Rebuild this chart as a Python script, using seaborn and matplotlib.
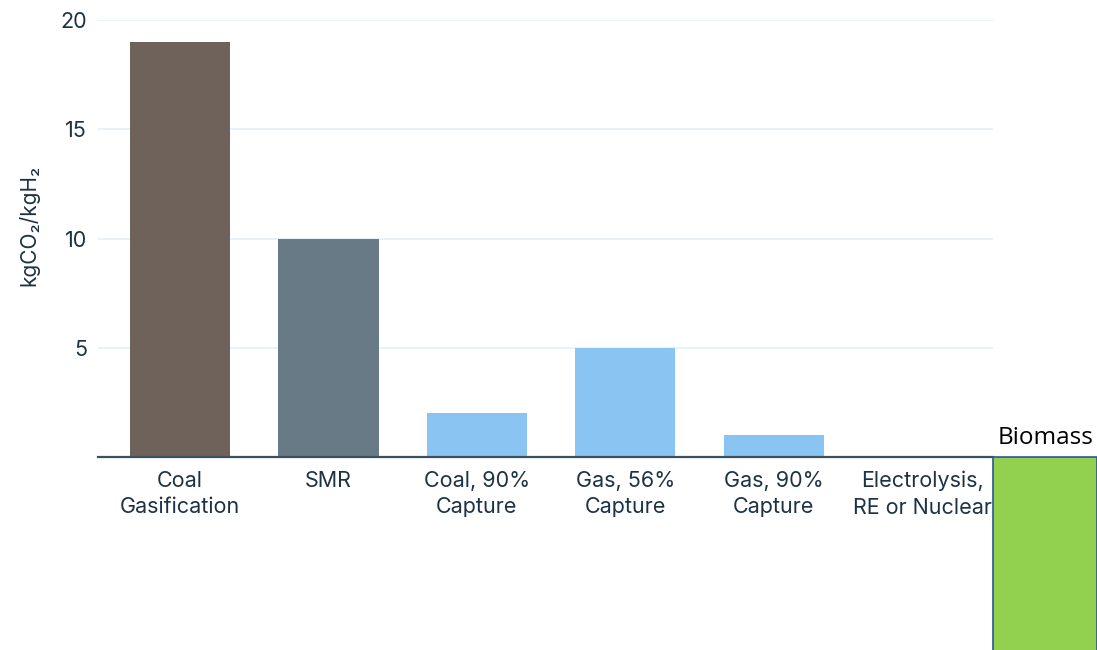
import matplotlib
matplotlib.use("Agg")
import matplotlib.pyplot as plt
import seaborn as sns
import pandas as pd

categories = ["Coal\nGasification", "SMR", "Coal, 90%\nCapture", "Gas, 56%\nCapture",
              "Gas, 90%\nCapture", "Electrolysis,\nRE or Nuclear"]
values = [19, 10, 2, 5, 1, 0]
bar_colors = ["#6f625b", "#687a86", "#8ac4f2", "#8ac4f2", "#8ac4f2", "#8ac4f2"]
y_ticks = [5, 10, 15, 20]
biomass_label = "Biomass"
biomass_value = -10

sns.set_theme(style="white")
plt.rcParams['font.family'] = ['Inter', 'DejaVu Sans']

text_color = "#1c3346"
fig = plt.figure(figsize=(10.97, 6.5), dpi=100)
ax = fig.add_axes([98/1097, 193/650, 895/1097, 437/650])

df = pd.DataFrame({"cat": categories, "val": values})
sns.barplot(data=df, x="cat", y="val", hue="cat", palette=bar_colors, legend=False,
            width=0.675, ax=ax, saturation=1, edgecolor="none")

ax.set_xlim(-0.553, 5.478)
ax.set_ylim(0, 20)
ax.set_yticks(y_ticks)
ax.yaxis.grid(True, color="#e3f0fb", linewidth=1.2)
ax.set_axisbelow(True)
for s in ["top", "right", "left"]:
    ax.spines[s].set_visible(False)
ax.spines["bottom"].set_color("#3b4f5e")
ax.spines["bottom"].set_linewidth(1.6)
ax.tick_params(axis="y", length=0, pad=8, labelsize=15.5, labelcolor=text_color)
ax.tick_params(axis="x", length=0, pad=10, labelsize=15.5, labelcolor=text_color)
for lbl in ax.get_xticklabels():
    lbl.set_linespacing(1.4)
ax.set_xlabel("")
ax.set_ylabel("kgCO₂/kgH₂", fontsize=15, color=text_color)
ax.yaxis.set_label_coords(-0.065, 0.53)

# Biomass bar overlay, outside axes
bx = 5.83
ax.bar([bx], [biomass_value], width=0.70, color="#92d050", edgecolor="#2f5597",
       linewidth=1.2, clip_on=False, zorder=5)
ax.text(bx, 0.6, biomass_label, ha="center", va="baseline", fontsize=17.5,
        family=["Open Sans", "DejaVu Sans"], color="black", clip_on=False)

fig.savefig("out.png", dpi=100)
